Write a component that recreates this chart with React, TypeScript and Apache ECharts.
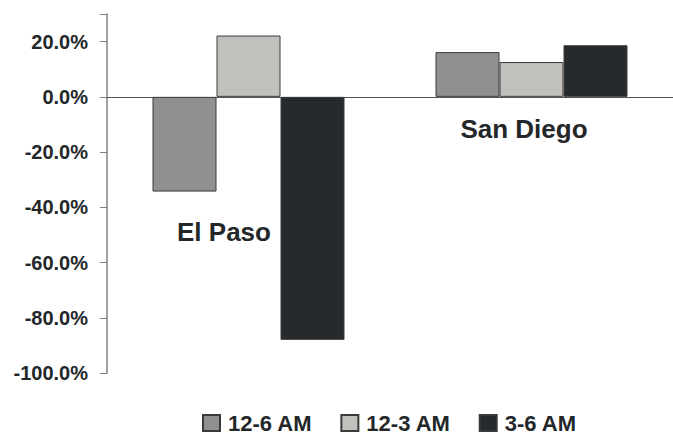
import React, { useEffect, useRef } from "react";
import * as echarts from "echarts";

const categories = ["El Paso", "San Diego"];
const seriesNames = ["12-6 AM", "12-3 AM", "3-6 AM"];
const values12to6 = [-34.3, 16.2];
const values12to3 = [22.2, 12.6];
const values3to6 = [-88.0, 18.7];
const seriesColors = ["#909090", "#c1c0bd", "#262a2d"];
const yTicks = { min: -100, max: 30, interval: 20 };

const FONT = "'Liberation Sans', Arial, sans-serif";
const TEXT = "#23272a";

export default function App() {
  const ref = useRef<HTMLDivElement>(null);
  useEffect(() => {
    if (!ref.current) return;
    const chart = echarts.init(ref.current, null, { renderer: "svg" });
    const data = [values12to6, values12to3, values3to6];
    chart.setOption({
      animation: false,
      backgroundColor: "#ffffff",
      grid: { left: 107, right: -8, top: 14, bottom: 61, containLabel: false },
      legend: {
        data: seriesNames,
        top: 407,
        left: 197,
        itemWidth: 17,
        itemHeight: 16,
        itemGap: 28,
        icon: "rect",
        textStyle: {
          fontFamily: FONT,
          fontWeight: "bold",
          fontSize: 22,
          lineHeight: 22,
          color: TEXT,
          padding: [0, 0, 0, 3],
        },
      },
      xAxis: {
        type: "category",
        data: categories,
        axisLine: { onZero: true, lineStyle: { color: "#555", width: 1 } },
        axisTick: { show: false },
        axisLabel: { show: false },
        splitLine: { show: false },
      },
      yAxis: {
        type: "value",
        min: yTicks.min,
        max: yTicks.max,
        interval: yTicks.interval,
        axisLine: { show: true, onZero: false, lineStyle: { color: "#808080", width: 1.5 } },
        axisTick: { show: true, inside: false, length: 7, lineStyle: { color: "#808080", width: 1 } },
        splitLine: { show: false },
        axisLabel: {
          margin: 19,
          fontFamily: FONT,
          fontWeight: "bold",
          fontSize: 20,
          color: TEXT,
          formatter: (v: number) => (v > 20 ? "" : v.toFixed(1) + "%"),
        },
      },
      series: seriesNames.map((name, i) => ({
        name,
        type: "bar",
        data: data[i],
        barWidth: 64,
        barGap: "0%",
        itemStyle: { color: seriesColors[i], borderColor: "#3a3a3a", borderWidth: 1 },
      })),
      graphic: [
        {
          type: "text",
          x: 224,
          y: 232,
          style: {
            text: categories[0],
            fontFamily: FONT,
            fontWeight: "bold",
            fontSize: 26,
            fill: TEXT,
            align: "center",
            verticalAlign: "middle",
          },
        },
        {
          type: "text",
          x: 524,
          y: 129,
          style: {
            text: categories[1],
            fontFamily: FONT,
            fontWeight: "bold",
            fontSize: 26,
            fill: TEXT,
            align: "center",
            verticalAlign: "middle",
          },
        },
      ],
    });
    return () => chart.dispose();
  }, []);
  return <div ref={ref} style={{ width: 673, height: 434, position: "fixed", left: 0, top: 0 }} />;
}
